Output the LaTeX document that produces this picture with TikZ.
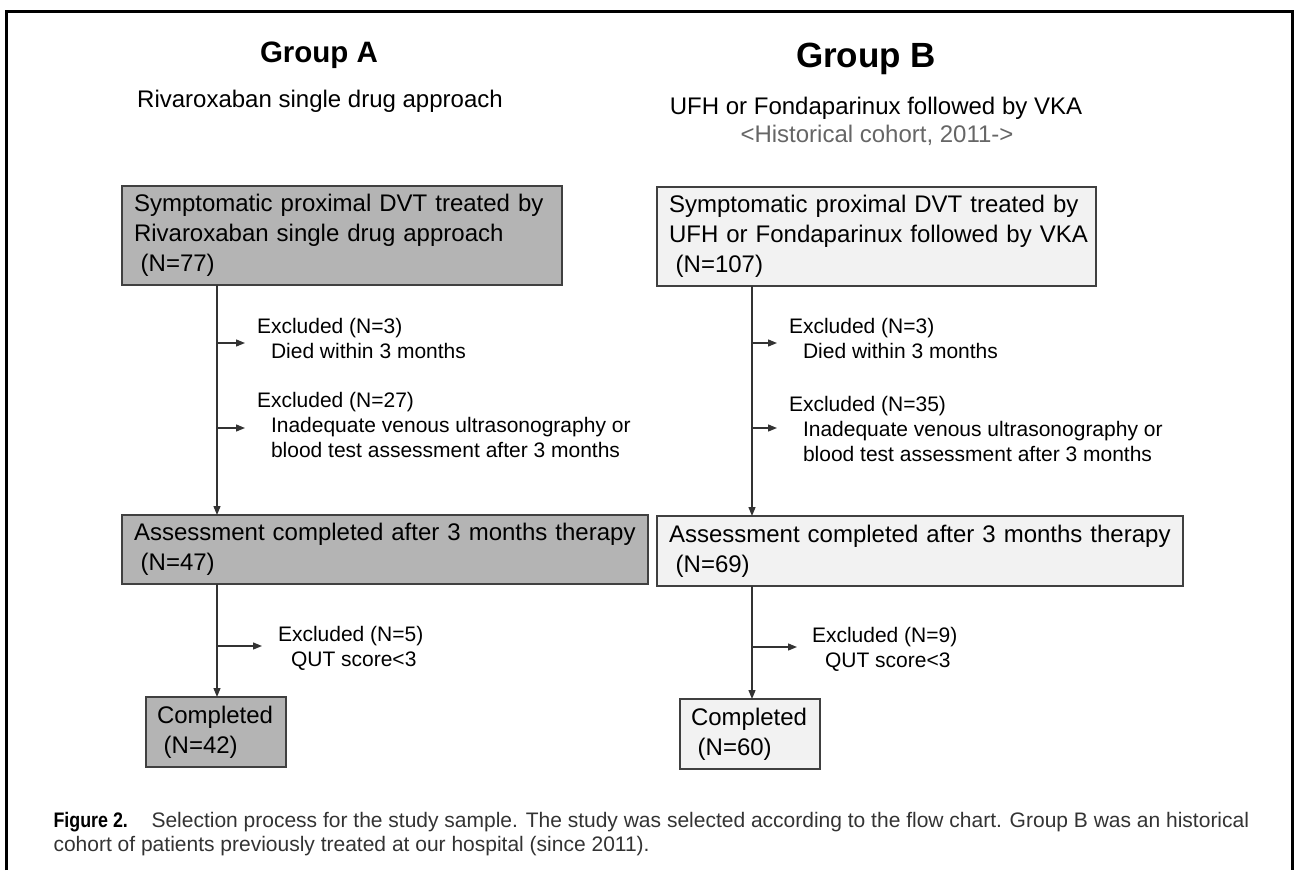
\documentclass[tikz,border=0pt]{standalone}
\usepackage{fontspec}
\setmainfont{Liberation Sans}
\newfontfamily\capbold[FakeStretch=0.85]{Liberation Sans}
\usetikzlibrary{arrows.meta}
\definecolor{fillA}{HTML}{B4B4B4}
\definecolor{fillB}{HTML}{F2F2F2}
\definecolor{edge}{HTML}{404040}
\definecolor{linec}{HTML}{333333}
\definecolor{subgray}{HTML}{666666}
\definecolor{captxt}{HTML}{333333}
\tikzset{
  box/.style={draw=edge, line width=1.5pt, anchor=north west, inner xsep=12pt, inner ysep=0pt,
    outer sep=0pt, align=left, font=\fontsize{24}{30}\selectfont},
  boxA/.style={box, fill=fillA},
  boxB/.style={box, fill=fillB},
  excl/.style={anchor=north west, inner sep=0pt, outer sep=0pt, align=left,
    font=\fontsize{21}{25}\selectfont},
  flow/.style={draw=linec, line width=1.3pt, -{Triangle[length=9pt,width=7pt]}},
  grouptitle/.style={anchor=base, font=\bfseries\fontsize{29.5}{34}\selectfont},
  subtitle/.style={anchor=base, font=\fontsize{24}{28}\selectfont},
  captext/.style={anchor=base west, text=captxt, font=\fontsize{21}{24}\selectfont},
}
\begin{document}
\begin{tikzpicture}[x=1pt,y=-1pt]
\useasboundingbox (0,0) rectangle (1297,870);
\draw[line width=3pt, black] (6,870) -- (6,11) -- (1292,11) -- (1292,870);

% titles
\node[grouptitle] (gA) at (319,62) {Group A};
\node[anchor=base, font=\bfseries\fontsize{35}{40}\selectfont] (gB) at (866,67) {Group B};
\node[subtitle] (sA) at (320,107) {Rivaroxaban single drug approach};
\node[subtitle] (sB) at (876,114) {UFH or Fondaparinux followed by VKA};
\node[subtitle, text=subgray] (sB2) at (877,142) {<Historical cohort, 2011->};

% boxes group A
\node[boxA, minimum width=440pt, minimum height=99pt, text width=416pt] (A1) at (122,186)
  {\mbox{Symptomatic proximal DVT treated by}\\\mbox{Rivaroxaban single drug approach}\\\hspace*{6.7pt}(N=77)};
\node[boxA, minimum width=526pt, minimum height=69pt, text width=502pt] (A2) at (122,515)
  {\mbox{Assessment completed after 3 months therapy}\\\hspace*{6.7pt}(N=47)};
\node[boxA, minimum width=140pt, minimum height=70pt, inner xsep=11pt, text width=118pt] (A3) at (146,697)
  {\mbox{Completed}\\\hspace*{6.7pt}(N=42)};

% boxes group B
\node[boxB, minimum width=439pt, minimum height=99pt, text width=415pt] (B1) at (657,187)
  {\mbox{Symptomatic proximal DVT treated by}\\\mbox{UFH or Fondaparinux followed by VKA}\\\hspace*{6.7pt}(N=107)};
\node[boxB, minimum width=526pt, minimum height=70pt, text width=502pt] (B2) at (657,516)
  {\mbox{Assessment completed after 3 months therapy}\\\hspace*{6.7pt}(N=69)};
\node[boxB, minimum width=140pt, minimum height=70pt, inner xsep=11pt, text width=118pt] (B3) at (680,699)
  {\mbox{Completed}\\\hspace*{6.7pt}(N=60)};

% exclusion labels
\node[excl] (eA1) at (257,317) {\rule{0pt}{16pt}Excluded (N=3)\\\hspace*{14pt}Died within 3 months};
\node[excl] (eA2) at (257,391) {\rule{0pt}{16pt}Excluded (N=27)\\\hspace*{14pt}Inadequate venous ultrasonography or\\\hspace*{14pt}blood test assessment after 3 months};
\node[excl] (eA3) at (278,625) {\rule{0pt}{16pt}Excluded (N=5)\\\hspace*{13pt}QUT score<3};
\node[excl] (eB1) at (789,317) {\rule{0pt}{16pt}Excluded (N=3)\\\hspace*{14pt}Died within 3 months};
\node[excl] (eB2) at (789,395) {\rule{0pt}{16pt}Excluded (N=35)\\\hspace*{14pt}Inadequate venous ultrasonography or\\\hspace*{14pt}blood test assessment after 3 months};
\node[excl] (eB3) at (812,626) {\rule{0pt}{16pt}Excluded (N=9)\\\hspace*{13pt}QUT score<3};

% connector coordinates
\coordinate (vA) at (217,0);
\coordinate (vB) at (752,0);
\coordinate (bA1) at (217,343);
\coordinate (bA2) at (217,428);
\coordinate (bA3) at (217,646);
\coordinate (bB1) at (752,343);
\coordinate (bB2) at (752,428);
\coordinate (bB3) at (752,647);

% main flow
\draw[flow] (A1.south -| vA) -- (A2.north -| vA);
\draw[flow] (A2.south -| vA) -- (A3.north -| vA);
\draw[flow] (B1.south -| vB) -- (B2.north -| vB);
\draw[flow] (B2.south -| vB) -- (B3.north -| vB);

% branches
\draw[flow, shorten >=12pt] (bA1) -- (bA1 -| eA1.west);
\draw[flow, shorten >=12pt] (bA2) -- (bA2 -| eA2.west);
\draw[flow, shorten >=16pt] (bA3) -- (bA3 -| eA3.west);
\draw[flow, shorten >=12pt] (bB1) -- (bB1 -| eB1.west);
\draw[flow, shorten >=12pt] (bB2) -- (bB2 -| eB2.west);
\draw[flow, shorten >=15pt] (bB3) -- (bB3 -| eB3.west);

% caption
\node[anchor=base west, font=\capbold\bfseries\fontsize{21}{24}\selectfont] (figl) at (50,827) {Figure 2.};
\node[captext] (cap1) at (148,827) {Selection process for the study sample. The study was selected according to the flow chart. Group B was an historical};
\node[captext] (cap2) at (50,851) {cohort of patients previously treated at our hospital (since 2011).};
\end{tikzpicture}
\end{document}
